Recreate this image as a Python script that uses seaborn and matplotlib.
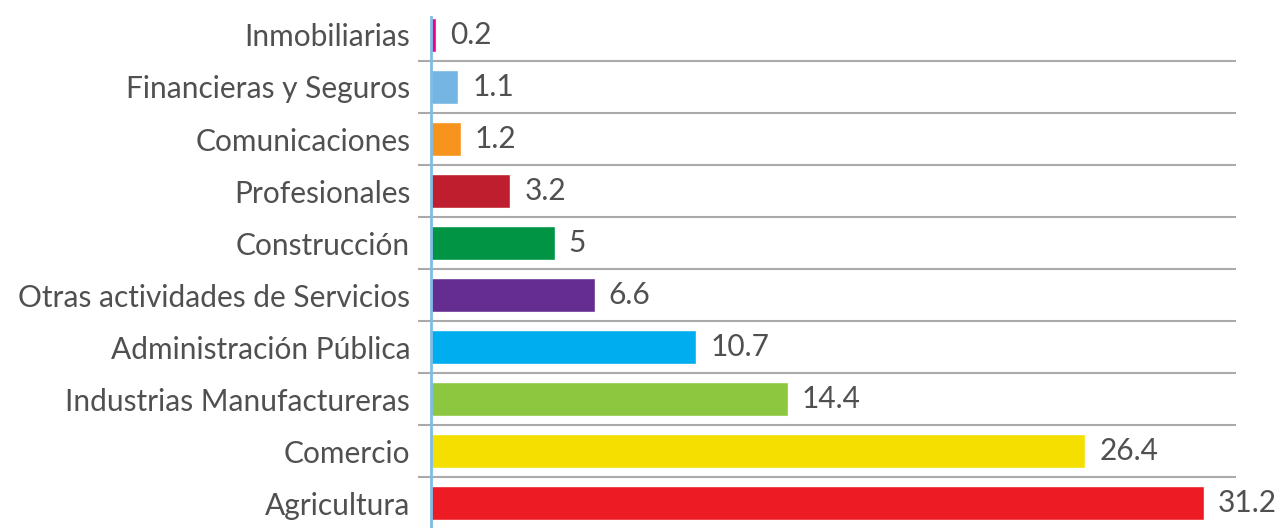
import matplotlib
matplotlib.use("Agg")
import matplotlib.pyplot as plt
import pandas as pd
import seaborn as sns

sectores = [
    "Inmobiliarias",
    "Financieras y Seguros",
    "Comunicaciones",
    "Profesionales",
    "Construcción",
    "Otras actividades de Servicios",
    "Administración Pública",
    "Industrias Manufactureras",
    "Comercio",
    "Agricultura",
]
valores = [0.2, 1.1, 1.2, 3.2, 5, 6.6, 10.7, 14.4, 26.4, 31.2]
etiquetas = ["0.2", "1.1", "1.2", "3.2", "5", "6.6", "10.7", "14.4", "26.4", "31.2"]
colores = [
    "#EC008C", "#74B5E4", "#F7941D", "#BE1E2D", "#009444",
    "#662D91", "#00AEEF", "#8DC63F", "#F5DF00", "#ED1C24",
]

df = pd.DataFrame({"sector": sectores, "valor": valores})

sns.set_style("white")
plt.rcParams["font.family"] = ["Lato", "DejaVu Sans"]
gris = "#505050"

fig = plt.figure(figsize=(12.77, 5.28), dpi=100)
ax = fig.add_axes([418 / 1277, 0.0, (1236 - 418) / 1277, 1 - 17 / 528])

sns.barplot(
    data=df, x="valor", y="sector", hue="sector", palette=colores,
    orient="h", width=0.65, legend=False, ax=ax, saturation=1,
)

# líneas entre filas
for i in range(len(sectores) - 1):
    ax.axhline(i + 0.5, color="#AAAAAA", lw=1.5, zorder=0)

ax.set_xlim(-0.525, 32.48)
ax.set_ylim(9.48, -0.346)

for s in ["top", "right", "bottom"]:
    ax.spines[s].set_visible(False)
ax.spines["left"].set_position(("data", 0))
ax.spines["left"].set_color("#7FBCE8")
ax.spines["left"].set_linewidth(2)

ax.set_xticks([])
ax.set_xlabel("")
ax.set_ylabel("")
ax.tick_params(axis="y", length=0, pad=15, labelsize=21.5, labelcolor=gris)

for cont, e in zip(ax.containers, etiquetas):
    ax.bar_label(cont, labels=[e], padding=10, fontsize=21.5, color=gris)

fig.savefig("out.png", dpi=100)
